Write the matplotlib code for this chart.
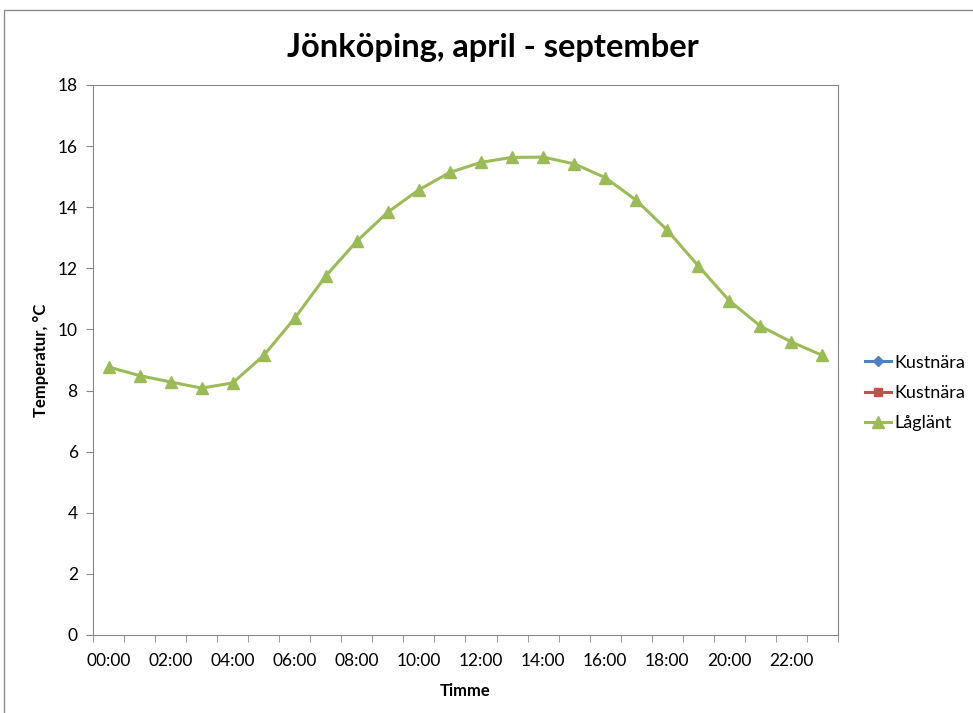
import matplotlib.pyplot as plt
from matplotlib.patches import Rectangle

plt.rcParams['font.family'] = ['Lato', 'DejaVu Sans']

hours = ['%02d:00' % h for h in range(24)]
kust_1 = []
kust_2 = []
laglant = [8.77, 8.49, 8.28, 8.08, 8.25, 9.15, 10.37, 11.75, 12.89, 13.84,
           14.57, 15.14, 15.47, 15.63, 15.64, 15.42, 14.97, 14.23, 13.25, 12.08,
           10.94, 10.11, 9.59, 9.15]

fig = plt.figure(figsize=(9.73, 7.13), dpi=100)
ax = fig.add_axes([0.0956, 0.1094, 0.7656, 0.7714])

# outer chart frame
fig.patches.append(Rectangle((0.004, -0.05), 1.2, 1.036, transform=fig.transFigure,
                             fill=False, edgecolor='#8c8c8c', lw=1.0))

x = list(range(len(laglant)))
ax.plot(kust_1, kust_1, color='#4F81BD', marker='D', ms=5, lw=2.2, label='Kustnära')
ax.plot(kust_2, kust_2, color='#C0504D', marker='s', ms=6, lw=2.2, label='Kustnära')
ax.plot(x, laglant, color='#9BBB59', marker='^', ms=8, lw=2.2, label='Låglänt')

ax.set_xlim(-0.5, 23.5)
ax.set_ylim(0, 18)
ax.set_yticks(range(0, 19, 2))
ax.set_xticks(range(0, 24, 2))
ax.set_xticklabels(hours[::2])
ax.set_xticks([i + 0.5 for i in range(-1, 24)], minor=True)
ax.tick_params(axis='x', which='major', length=0, pad=13, labelsize=12.5)
ax.tick_params(axis='x', which='minor', length=5, color='#868686', direction='out')
ax.tick_params(axis='y', length=5, color='#868686', labelsize=12.5, pad=6)
for s in ax.spines.values():
    s.set_color('#868686')

ax.set_title('Jönköping, april - september', fontsize=23.5, fontweight='bold',
             pad=20, x=0.537)
ax.set_xlabel('Timme', fontsize=12, fontweight='bold', labelpad=10)
ax.set_ylabel('Temperatur, °C', fontsize=12, fontweight='bold', labelpad=6)

ax.legend(loc='center left', bbox_to_anchor=(1.026, 0.44), frameon=False,
          fontsize=13, handlelength=1.45, labelspacing=0.8, handletextpad=0.2,
          borderaxespad=0)

fig.savefig('out.png', dpi=100)
